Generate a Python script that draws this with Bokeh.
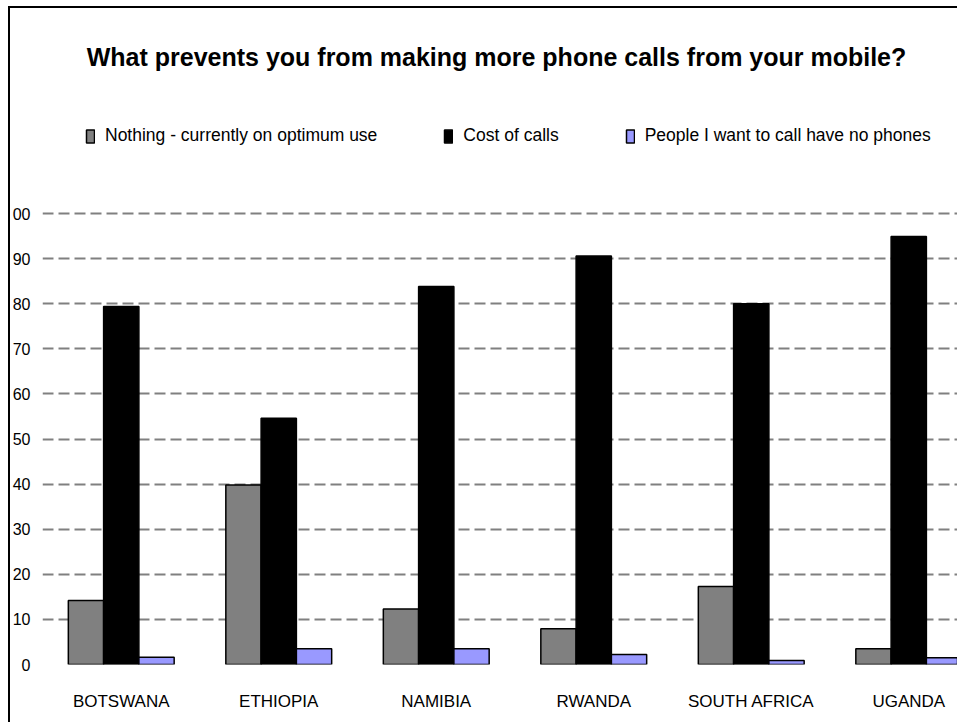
from bokeh.plotting import figure
from bokeh.models import (Range1d, Legend, LegendItem, FixedTicker, ColumnDataSource,
                          InlineStyleSheet, Label)
from bokeh.embed import file_html
from bokeh.resources import INLINE

countries = ["BOTSWANA", "ETHIOPIA", "NAMIBIA", "RWANDA", "SOUTH AFRICA", "UGANDA"]
nothing = [14.2, 39.8, 12.3, 7.9, 17.3, 3.5]
cost = [79.4, 54.6, 83.8, 90.6, 80.0, 94.9]
no_phones = [1.6, 3.5, 3.5, 2.2, 0.9, 1.5]
series_names = ["Nothing - currently on optimum use", "Cost of calls",
                "People I want to call have no phones"]
y_ticks = [0, 10, 20, 30, 40, 50, 60, 70, 80, 90, 100]
y_tick_labels = ["0", "10", "20", "30", "40", "50", "60", "70", "80", "90", "00"]
title_text = "What prevents you from making more phone calls from your mobile?"

FONT = "'Liberation Sans', Arial, sans-serif"

W, H = 957, 722
FL, FB = 42, 58
FBOT = H - FB              # frame bottom in canvas pixels (value 0)
cat_px = 157.5
px_per_unit = 4.51

# frame spans the full height above the x axis; the 0-100 scale sits in its lower part
p = figure(width=W, height=H, output_backend="svg", toolbar_location=None,
           x_range=Range1d(0, (W - FL) / cat_px),
           y_range=Range1d(0, FBOT / px_per_unit),
           min_border_left=FL, min_border_right=0, min_border_top=0,
           min_border_bottom=FB, outline_line_color=None, title=None)

centers = [i + 0.5 for i in range(len(countries))]
bw = 0.224
colors = ["#808080", "#000000", "#9999FF"]
renderers = []
for k, (vals, col) in enumerate(zip([nothing, cost, no_phones], colors)):
    off = (k - 1) * bw
    src = ColumnDataSource(dict(x=[c + off for c in centers], top=vals))
    r = p.vbar(x="x", top="top", width=bw, bottom=0, source=src,
               fill_color=col, line_color="black", line_width=1.5)
    renderers.append(r)

# axes
p.xaxis.ticker = FixedTicker(ticks=centers)
p.xaxis.major_label_overrides = {c: n for c, n in zip(centers, countries)}
p.yaxis.ticker = FixedTicker(ticks=y_ticks)
p.yaxis.major_label_overrides = {t: l for t, l in zip(y_ticks, y_tick_labels)}
for ax in (p.xaxis[0], p.yaxis[0]):
    ax.axis_line_color = None
    ax.major_tick_line_color = None
    ax.minor_tick_line_color = None
    ax.major_tick_out = 0
    ax.major_tick_in = 0
    ax.major_label_text_font = FONT
    ax.major_label_text_color = "black"
p.xaxis.major_label_text_font_size = "17px"
p.xaxis.major_label_standoff = 27
p.yaxis.major_label_text_font_size = "16px"
p.yaxis.major_label_standoff = 12

p.xgrid.grid_line_color = None
p.ygrid.grid_line_color = "#808080"
p.ygrid.grid_line_width = 2
p.ygrid.grid_line_dash = "11 5"

# legend (screen position relative to the frame's bottom-left corner)
items = [LegendItem(label=n, renderers=[r]) for n, r in zip(series_names, renderers)]
legend = Legend(items=items, orientation="horizontal", location=(85 - FL, FBOT - 146),
                glyph_width=10, glyph_height=16, label_standoff=10, spacing=66,
                padding=0, margin=0, border_line_color=None,
                background_fill_alpha=0, label_text_font=FONT,
                label_text_font_size="17.5px", label_text_color="black",
                label_height=20)
p.add_layout(legend)

# title
p.add_layout(Label(x=496 - FL, y=FBOT - 56, x_units="screen", y_units="screen",
                   text=title_text, text_align="center", text_baseline="alphabetic",
                   text_font=FONT, text_font_style="bold", text_font_size="25px",
                   text_color="black"))

# outer chart border (left and top edges of the chart area)
p.stylesheets = [InlineStyleSheet(css="""
:host { position: relative; }
:host::after { content: ''; position: absolute; left: 8px; top: 6px; right: 0; bottom: 0;
  border-left: 2px solid black; border-top: 2px solid black; pointer-events: none; }
""")]

open("out.html", "w").write(file_html(p, INLINE))
